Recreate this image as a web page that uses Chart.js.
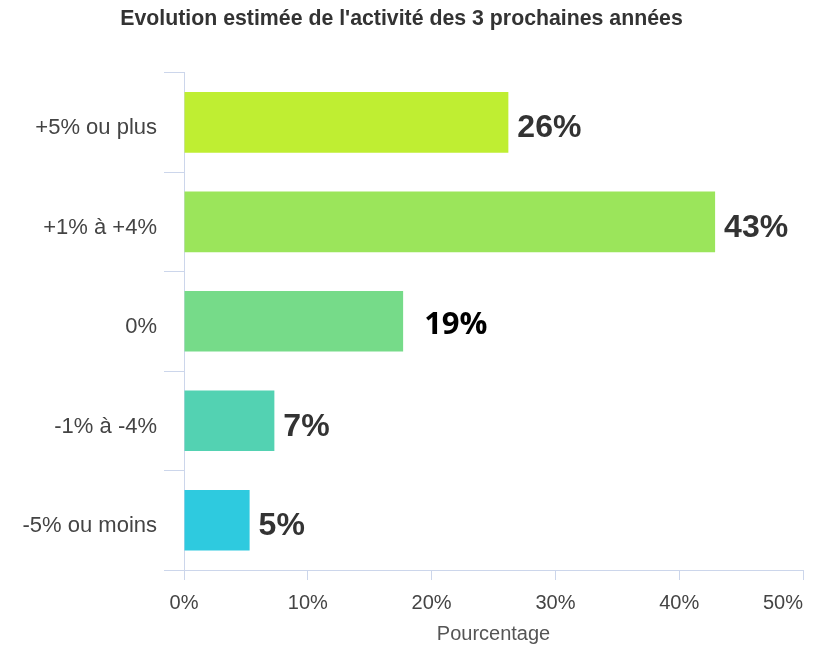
<!DOCTYPE html>
<html>
<head>
<meta charset="utf-8">
<script src="https://cdn.jsdelivr.net/npm/chart.js@4/dist/chart.umd.min.js"></script>
<style>
  html, body { margin: 0; padding: 0; background: #fff; }
  #box { width: 819px; height: 646px; }
</style>
</head>
<body>
<div id="box"><canvas id="evolution"></canvas></div>
<script>
const categories = ['+5% ou plus', '+1% à +4%', '0%', '-1% à -4%', '-5% ou moins'];
// bar lengths as drawn in the picture; the printed labels are kept apart
const values = [26.2, 42.9, 17.7, 7.3, 5.3];
const valueLabels = ['26%', '43%', '19%', '7%', '5%'];
const barColors = ['#bfee32', '#9be55b', '#76db89', '#53d2b2', '#2ecadf'];
const xTicks = [0, 10, 20, 30, 40, 50];

const axisColor = '#ccd6eb';
const sans = '"Liberation Sans", Arial, sans-serif';

const valueLabelPlugin = {
    id: 'valueLabels',
    afterDatasetsDraw(chart) {
        const ctx = chart.ctx;
        const meta = chart.getDatasetMeta(0);
        ctx.save();
        ctx.textAlign = 'left';
        ctx.textBaseline = 'middle';
        meta.data.forEach((bar, i) => {
            const text = valueLabels[i];
            if (text === '19%') {
                // this one was pasted in with another font
                ctx.font = 'bold 31px "Open Sans", "Noto Sans", sans-serif';
                ctx.fillStyle = '#000';
                ctx.fillText(text, bar.x + 21, bar.y + 4);
            } else {
                ctx.font = 'bold 32px ' + sans;
                ctx.fillStyle = '#333';
                ctx.fillText(text, bar.x + 9, bar.y + 6);
            }
        });
        ctx.restore();
    }
};

new Chart(document.getElementById('evolution'), {
    type: 'bar',
    data: {
        labels: categories,
        datasets: [{
            label: 'Pourcentage',
            data: values,
            backgroundColor: barColors,
            borderWidth: 0,
            barPercentage: 0.61,
            categoryPercentage: 1
        }]
    },
    options: {
        indexAxis: 'y',
        responsive: true,
        maintainAspectRatio: false,
        animation: false,
        layout: { padding: { left: 0, right: 16, top: 0, bottom: 0 } },
        plugins: {
            legend: { display: false },
            tooltip: { enabled: false },
            title: {
                display: true,
                text: "Evolution estimée de l'activité des 3 prochaines années",
                color: '#333',
                font: { family: sans, size: 21.3, weight: 'bold' },
                padding: { top: 6, bottom: 41 }
            }
        },
        scales: {
            x: {
                min: 0,
                max: 50,
                afterBuildTicks: axis => { axis.ticks = xTicks.map(v => ({ value: v })); },
                afterFit: axis => {
                    axis.height = 76;
                    axis.paddingRight = 0;
                },
                grid: {
                    drawOnChartArea: false,
                    drawTicks: true,
                    tickLength: 10,
                    color: axisColor
                },
                border: { color: axisColor, width: 1 },
                ticks: {
                    // last label is pulled left to stay inside the frame
                    callback: v => v === 50 ? v + '%\u2003\u2003' : v + '%',
                    color: '#444',
                    font: { family: sans, size: 20 },
                    padding: 11,
                    maxRotation: 0
                },
                title: {
                    display: true,
                    text: 'Pourcentage',
                    color: '#555',
                    font: { family: sans, size: 20 },
                    padding: { top: 0, bottom: 0 }
                }
            },
            y: {
                afterFit: axis => { axis.width = 184; },
                grid: {
                    offset: true,
                    drawOnChartArea: false,
                    drawTicks: true,
                    tickLength: 20,
                    color: axisColor
                },
                border: { color: axisColor, width: 1 },
                ticks: {
                    color: '#444',
                    font: { family: sans, size: 22 },
                    padding: 7,
                    labelOffset: 6
                }
            }
        }
    },
    plugins: [valueLabelPlugin]
});
</script>
</body>
</html>
